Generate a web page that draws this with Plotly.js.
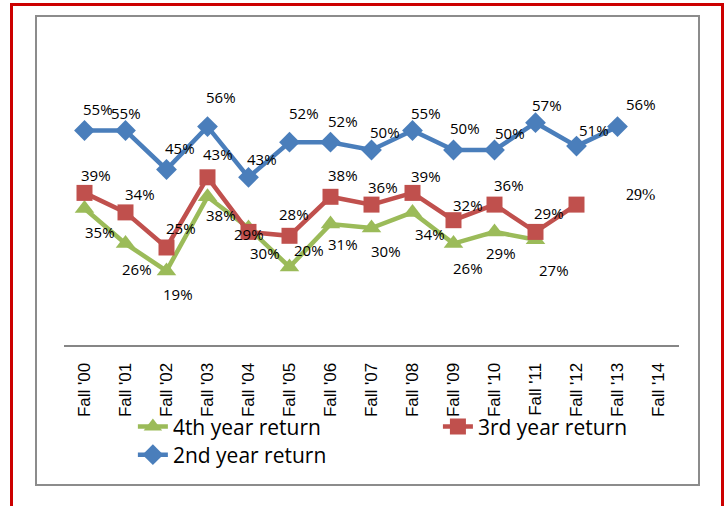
<!DOCTYPE html>
<html>
<head>
<meta charset="utf-8">
<script src="https://cdn.plot.ly/plotly-3.0.1.min.js"></script>
<style>
  html, body { margin: 0; padding: 0; background: #ffffff; }
  #wrap { position: relative; width: 726px; height: 506px; overflow: hidden; background: #fff; }
  #chart { position: absolute; left: 0; top: 0; width: 726px; height: 506px; }
  .frame { position: absolute; pointer-events: none; box-sizing: border-box; }
  #red { left: 10px; top: 3px; width: 714px; height: 520px; border: 3px solid #cc0000; }
  #gray { left: 35px; top: 15px; width: 665px; height: 471px; border: 2px solid #8c8c8c; }
</style>
</head>
<body>
<div id="wrap">
  <div id="chart"></div>
  <div class="frame" id="red"></div>
  <div class="frame" id="gray"></div>
</div>
<script>
// ---- data ----
const categories = ["Fall '00","Fall '01","Fall '02","Fall '03","Fall '04","Fall '05","Fall '06","Fall '07","Fall '08","Fall '09","Fall '10","Fall '11","Fall '12","Fall '13","Fall '14"];
const secondYear = [55, 55, 45, 56, 43, 52, 52, 50, 55, 50, 50, 57, 51, 56, null];
const thirdYear  = [39, 34, 25, 43, 29, 28, 38, 36, 39, 32, 36, 29, 36, null, null];
const fourthYear = [35, 26, 19, 38, 30, 20, 31, 30, 34, 26, 29, 27, null, null, null];
const thirdLabelShown = [true, true, true, true, true, true, true, true, true, true, true, true, false, false, false];
const extraLabelText = "29%";

// ---- label offsets (pixels: dx right, dy up) ----
const secondShift = [[13,22],[0,18],[13,22],[13,30],[13,18],[14,29],[12,21],[13,18],[13,18],[11,22],[15,17],[11,18],[17,16],[23,23]];
const thirdShift  = [[11,18],[14,18],[14,20],[10,23],[0,-2],[4,22],[12,22],[11,18],[13,17],[14,15],[14,20],[13,19]];
const fourthShift = [[15,-23],[11,-25],[11,-23],[13,-18],[16,-25],[19,17],[12,-20],[14,-23],[17,-22],[14,-24],[6,-21],[18,-30]];

const BLUE = '#4a7ebb', RED = '#c0504d', GREEN = '#9bbb59';
const labelFont = {family: 'Open Sans, sans-serif', size: 15, color: '#000'};

const traces = [
  {x: categories, y: fourthYear, name: '4th year return', type: 'scatter', mode: 'lines+markers',
   line: {color: GREEN, width: 4.5}, marker: {symbol: 'triangle-up', size: 17, color: GREEN},
   legend: 'legend', cliponaxis: false},
  {x: categories, y: thirdYear, name: '3rd year return', type: 'scatter', mode: 'lines+markers',
   line: {color: RED, width: 4.5}, marker: {symbol: 'square', size: 16, color: RED},
   legend: 'legend2', cliponaxis: false},
  {x: categories, y: secondYear, name: '2nd year return', type: 'scatter', mode: 'lines+markers',
   line: {color: BLUE, width: 4.5}, marker: {symbol: 'diamond', size: 16, color: BLUE},
   legend: 'legend3', cliponaxis: false}
];

const annotations = [];
function addLabels(vals, shifts, shownArr) {
  vals.forEach((v, i) => {
    if (v === null || v === undefined) return;
    if (shownArr && !shownArr[i]) return;
    const s = shifts[i] || [12, 18];
    annotations.push({x: categories[i], y: v, xref: 'x', yref: 'y', text: v + '%',
      showarrow: false, xshift: s[0], yshift: s[1], font: labelFont});
  });
}
addLabels(secondYear, secondShift);
addLabels(thirdYear, thirdShift, thirdLabelShown);
addLabels(fourthYear, fourthShift);
annotations.push({x: categories[13], y: 38.5, xref: 'x', yref: 'y', text: extraLabelText,
  showarrow: false, xshift: 23, font: {family: 'Liberation Serif, serif', size: 16, color: '#000'}});

const legendFont = {family: 'Open Sans, sans-serif', size: 21, color: '#000'};
const legendBase = {orientation: 'h', bgcolor: 'rgba(0,0,0,0)', borderwidth: 0, font: legendFont,
  xanchor: 'left', yanchor: 'middle', xref: 'paper', yref: 'paper'};

const layout = {
  width: 726, height: 506,
  margin: {l: 64, r: 47, t: 72, b: 161},
  paper_bgcolor: 'rgba(0,0,0,0)', plot_bgcolor: 'rgba(0,0,0,0)',
  showlegend: true,
  legend:  Object.assign({}, legendBase, {x: 0.112, y: -0.300}),
  legend2: Object.assign({}, legendBase, {x: 0.608, y: -0.300}),
  legend3: Object.assign({}, legendBase, {x: 0.112, y: -0.403}),
  xaxis: {type: 'category', range: [-0.5, 14.5], showline: true, linecolor: '#868686', linewidth: 2,
    showgrid: false, zeroline: false, ticks: '', tickangle: -90, ticklabelstandoff: 9,
    tickfont: {family: 'Liberation Sans, Arial, sans-serif', size: 17, color: '#000'}},
  yaxis: {range: [0, 70], visible: false, showgrid: false, zeroline: false, fixedrange: true},
  annotations: annotations
};

Plotly.newPlot('chart', traces, layout, {displayModeBar: false, staticPlot: true});
</script>
</body>
</html>
